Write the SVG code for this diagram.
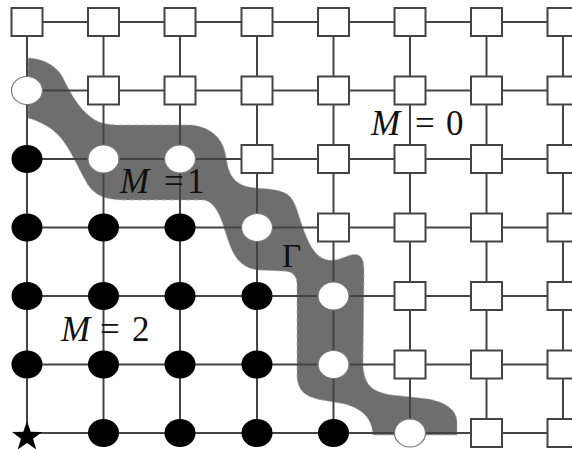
<svg xmlns="http://www.w3.org/2000/svg" width="572" height="449" viewBox="0 0 572 449">
<style>
.ln{stroke:#444;stroke-width:2;fill:none}
.sq{fill:#fff;stroke:#444;stroke-width:2}
.bk{fill:#000;stroke:none}
.wh{fill:#fff;stroke:#777;stroke-width:1.2}
.band{fill:#6e6e6e;stroke:#b0b0b0;stroke-width:0.8;stroke-dasharray:5 3}
.lbl{font-family:"Liberation Serif","Times New Roman",serif;font-size:35px;fill:#111}
.it{font-style:italic}
</style>
<defs>
<rect id="S" x="-15.5" y="-14" width="31" height="28" class="sq"/>
<ellipse id="B" rx="15.5" ry="14" class="bk"/>
<ellipse id="W" rx="15.5" ry="14" class="wh"/>
</defs>
<rect width="572" height="449" fill="#fff"/>
<g id="region-gamma">
<path class="band" d="M28,58 C40,58 55,64 62,76 C70,92 78,108 92,118 C100,124 110,125 120,125 L192,125 C210,127 222,138 225,152 C228,166 228,180 245,186 C258,190 275,187 287,194 C296,200 298,215 303,228 C308,242 315,258 328,260 C340,262 350,252 358,255 C365,258 364,268 364,280 L363,365 C364,385 372,392 392,395 L420,398 C445,400 457,410 457,422 L457,435 L373,435 C372,420 365,410 345,404 L322,400 C305,397 297,390 297,375 L297,285 C297,275 292,271 282,271 L258,270 C240,268 233,255 228,240 C222,222 218,203 204,200 L125,200 C105,200 95,195 88,185 C78,168 70,148 60,137 C52,128 42,122 28,118 Z"/>
</g>
<g id="connectors">
<path class="ln" d="M27,22H572 M27,90.5H572 M27,159H572 M27,227.5H572 M27,296H572 M27,364.5H572 M27,433H572"/>
<path class="ln" d="M27,22V433 M103.5,22V433 M180,22V433 M257,22V433 M333.5,22V433 M410,22V433 M486.5,22V433 M563,22V433"/>
</g>
<g id="n-r0c0"><use href="#S" x="27" y="22"/></g>
<g id="n-r0c1"><use href="#S" x="103.5" y="22"/></g>
<g id="n-r0c2"><use href="#S" x="180" y="22"/></g>
<g id="n-r0c3"><use href="#S" x="257" y="22"/></g>
<g id="n-r0c4"><use href="#S" x="333.5" y="22"/></g>
<g id="n-r0c5"><use href="#S" x="410" y="22"/></g>
<g id="n-r0c6"><use href="#S" x="486.5" y="22"/></g>
<g id="n-r0c7"><use href="#S" x="563" y="22"/></g>
<g id="n-r1c0"><use href="#W" x="27" y="90.5"/></g>
<g id="n-r1c1"><use href="#S" x="103.5" y="90.5"/></g>
<g id="n-r1c2"><use href="#S" x="180" y="90.5"/></g>
<g id="n-r1c3"><use href="#S" x="257" y="90.5"/></g>
<g id="n-r1c4"><use href="#S" x="333.5" y="90.5"/></g>
<g id="n-r1c5"><use href="#S" x="410" y="90.5"/></g>
<g id="n-r1c6"><use href="#S" x="486.5" y="90.5"/></g>
<g id="n-r1c7"><use href="#S" x="563" y="90.5"/></g>
<g id="n-r2c0"><use href="#B" x="27" y="159"/></g>
<g id="n-r2c1"><use href="#W" x="103.5" y="159"/></g>
<g id="n-r2c2"><use href="#W" x="180" y="159"/></g>
<g id="n-r2c3"><use href="#S" x="257" y="159"/></g>
<g id="n-r2c4"><use href="#S" x="333.5" y="159"/></g>
<g id="n-r2c5"><use href="#S" x="410" y="159"/></g>
<g id="n-r2c6"><use href="#S" x="486.5" y="159"/></g>
<g id="n-r2c7"><use href="#S" x="563" y="159"/></g>
<g id="n-r3c0"><use href="#B" x="27" y="227.5"/></g>
<g id="n-r3c1"><use href="#B" x="103.5" y="227.5"/></g>
<g id="n-r3c2"><use href="#B" x="180" y="227.5"/></g>
<g id="n-r3c3"><use href="#W" x="257" y="227.5"/></g>
<g id="n-r3c4"><use href="#S" x="333.5" y="227.5"/></g>
<g id="n-r3c5"><use href="#S" x="410" y="227.5"/></g>
<g id="n-r3c6"><use href="#S" x="486.5" y="227.5"/></g>
<g id="n-r3c7"><use href="#S" x="563" y="227.5"/></g>
<g id="n-r4c0"><use href="#B" x="27" y="296"/></g>
<g id="n-r4c1"><use href="#B" x="103.5" y="296"/></g>
<g id="n-r4c2"><use href="#B" x="180" y="296"/></g>
<g id="n-r4c3"><use href="#B" x="257" y="296"/></g>
<g id="n-r4c4"><use href="#W" x="333.5" y="296"/></g>
<g id="n-r4c5"><use href="#S" x="410" y="296"/></g>
<g id="n-r4c6"><use href="#S" x="486.5" y="296"/></g>
<g id="n-r4c7"><use href="#S" x="563" y="296"/></g>
<g id="n-r5c0"><use href="#B" x="27" y="364.5"/></g>
<g id="n-r5c1"><use href="#B" x="103.5" y="364.5"/></g>
<g id="n-r5c2"><use href="#B" x="180" y="364.5"/></g>
<g id="n-r5c3"><use href="#B" x="257" y="364.5"/></g>
<g id="n-r5c4"><use href="#W" x="333.5" y="364.5"/></g>
<g id="n-r5c5"><use href="#S" x="410" y="364.5"/></g>
<g id="n-r5c6"><use href="#S" x="486.5" y="364.5"/></g>
<g id="n-r5c7"><use href="#S" x="563" y="364.5"/></g>
<g id="n-r6c0"><polygon fill="#000" points="27,421 30.7,431.8 42,432 33,438.8 36.3,449.5 27,443 17.7,449.5 21,438.8 12,432 23.3,431.8"/></g>
<g id="n-r6c1"><use href="#B" x="103.5" y="433"/></g>
<g id="n-r6c2"><use href="#B" x="180" y="433"/></g>
<g id="n-r6c3"><use href="#B" x="257" y="433"/></g>
<g id="n-r6c4"><use href="#B" x="333.5" y="433"/></g>
<g id="n-r6c5"><use href="#W" x="410" y="433"/></g>
<g id="n-r6c6"><use href="#S" x="486.5" y="433"/></g>
<g id="n-r6c7"><use href="#S" x="563" y="433"/></g>
<g id="labels">
<text class="lbl" y="135"><tspan class="it" x="371">M</tspan><tspan x="415">=</tspan><tspan x="446">0</tspan></text>
<text class="lbl" y="193"><tspan class="it" x="120">M</tspan><tspan x="164">=</tspan><tspan x="187">1</tspan></text>
<text class="lbl" y="341"><tspan class="it" x="61">M</tspan><tspan x="100">=</tspan><tspan x="132">2</tspan></text>
<text class="lbl" x="282" y="267" style="font-size:33px">Γ</text>
</g>
</svg>
